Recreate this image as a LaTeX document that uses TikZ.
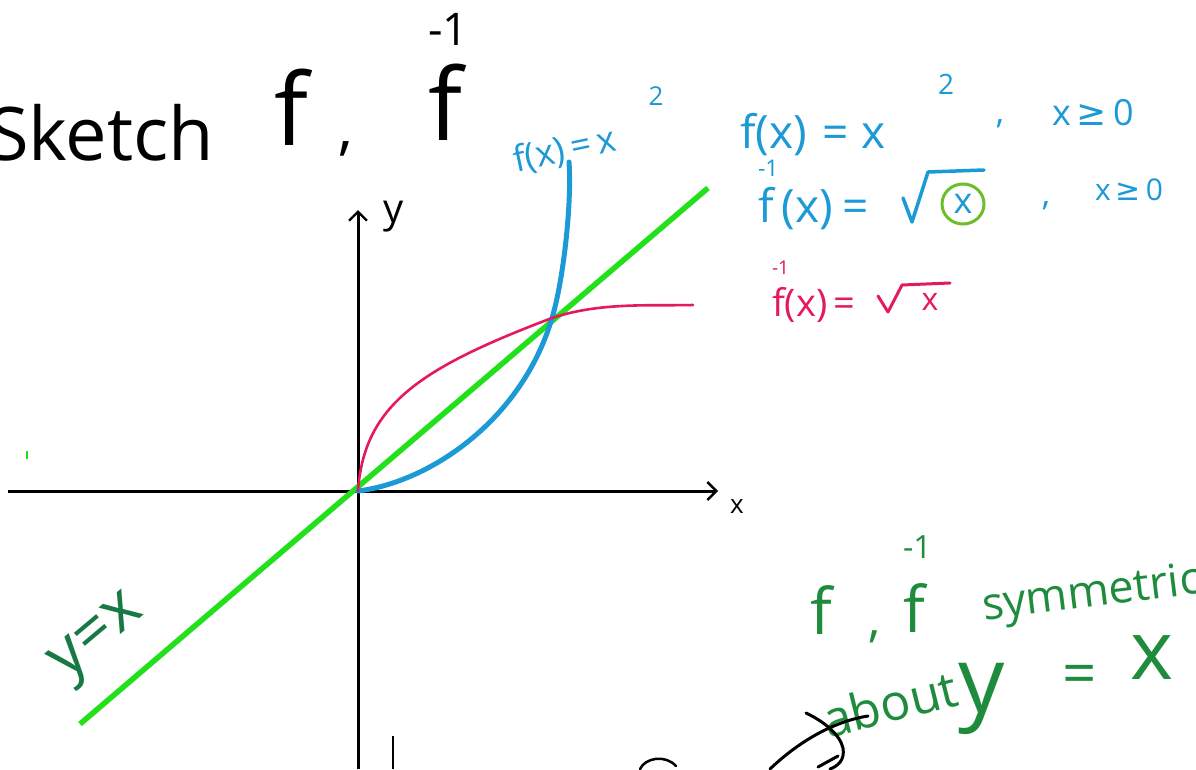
\documentclass[tikz,border=0pt]{standalone}
\usepackage{fontspec}
\usepackage{graphicx}
\setmainfont{Open Sans}
\newfontfamily\symfont{DejaVu Sans}
\usetikzlibrary{arrows.meta}
\definecolor{fblue}{HTML}{1C9AD6}
\definecolor{fpink}{HTML}{E5195E}
\definecolor{lgreen}{HTML}{22E01A}
\definecolor{cgreen}{HTML}{6CBE2B}
\definecolor{dgreen}{HTML}{1E8C3C}
\definecolor{tgreen}{HTML}{177A45}
\newcommand\finv[2]{\makebox[0pt][l]{\raisebox{#1}{\scalebox{#2}{-1}}}f}
\tikzset{
  axis/.style={line width=3pt, black},
  barb/.style={-{Straight Barb[length=9pt,width=18pt,line width=2.4pt]}},
  hand/.style={inner sep=0pt, outer sep=0pt},
  bluetxt/.style={hand, text=fblue},
  pinktxt/.style={hand, text=fpink},
  greentxt/.style={hand, text=dgreen},
  ink/.style={line width=3pt, line cap=round, line join=round},
}
\begin{document}
\begin{tikzpicture}[x=1pt,y=-1pt]
\fill[white] (0,0) rectangle (1196,769);
\path[use as bounding box] (0,0) rectangle (1196,769);

% title
\node[hand, anchor=base west, font=\fontsize{74}{80}\selectfont] (sketch) at (-12,160) {Sketch};
\node[hand, anchor=base west, font=\fontsize{100}{100}\selectfont] (f1) at (274,145) {f};
\node[hand, anchor=base west, font=\fontsize{60}{60}\selectfont] (comma1) at (338,148) {,};
\node[hand, anchor=base west, font=\fontsize{100}{100}\selectfont] (f2) at (428,140) {\finv{0.95em}{0.45}};

% axes
\coordinate (xl) at (8,491);
\coordinate (xr) at (718,491);
\coordinate (yb) at (358,769);
\coordinate (yt) at (358,210);
\coordinate (O) at (358,491);
\draw[axis, barb] (xl) -- (xr);
\draw[axis, barb] (yb) -- (yt);
\node[hand, font=\fontsize{40}{40}\selectfont, anchor=base west] (ylab) at (383,222) {y};
\node[hand, font=\fontsize{26}{28}\selectfont, anchor=base west] (xlab) at (730,513) {x};

% y = x line
\coordinate (gl) at (80,724);
\coordinate (gr) at (708,188);
\draw[lgreen, line width=5.5pt] (gl) -- (gr);
\node[hand, text=tgreen, rotate=40, font=\fontsize{64}{64}\selectfont] (yx) at (100,640) {y=x};
\draw[lgreen, line width=2pt] (27,451) -- (27,459);

% curves
\coordinate (P) at (552,318);
\coordinate (btop) at (569,162);
\coordinate (pend) at (693,305);
\draw[fblue, line width=5pt, line cap=round] (O) .. controls (430,482) and (522,420) .. (P)
  .. controls (563,282) and (572,205) .. (btop);
\draw[fpink, line width=2.6pt, line cap=round] (O) .. controls (364,405) and (420,368) .. (P)
  .. controls (600,302) and (650,306) .. (pend);

% blue label near curve
\node[bluetxt, rotate=12, anchor=base west, font=\fontsize{36}{38}\selectfont] (flab) at (516,172) {f(x)\,=\,x};
\node[bluetxt, font=\fontsize{26}{28}\selectfont] (flab2) at (656,96) {2};

% right text, line 1
\node[bluetxt, anchor=base west, font=\fontsize{46}{46}\selectfont] (r1) at (740,148) {f(x)\hspace{16pt}=\hspace{12pt}x};
\node[bluetxt, font=\fontsize{28}{30}\selectfont] (r1b) at (946,84) {2};
\node[bluetxt, font=\fontsize{34}{36}\selectfont] (r1c) at (1000,124) {,};
\node[bluetxt, anchor=base west, font=\fontsize{36}{38}\selectfont] (r1d) at (1052,125) {x\,{\symfont ≥}\,0};

% right text, line 2
\node[bluetxt, anchor=base west, font=\fontsize{46}{46}\selectfont] (r2) at (758,222) {\finv{1em}{0.5}\hspace{8pt}(x)\hspace{10pt}=};
\coordinate (rad1) at (903,198);
\draw[fblue, ink, line width=3.5pt] (rad1) -- (912,222) -- (928,172) -- (984,170);
\node[bluetxt, font=\fontsize{36}{38}\selectfont] (r2x) at (963,204) {x};
\draw[cgreen, line width=3pt] (r2x) ellipse (21pt and 20pt);
\node[bluetxt, font=\fontsize{34}{36}\selectfont] (r2c) at (1046,206) {,};
\node[bluetxt, anchor=base west, font=\fontsize{30}{32}\selectfont] (r2d) at (1095,200) {x\,{\symfont ≥}\,0};

% pink text
\node[pinktxt, anchor=base west, font=\fontsize{38}{38}\selectfont] (p1) at (772,316) {\finv{1.1em}{0.5}(x)\,=};
\coordinate (rad2) at (878,296);
\draw[fpink, ink] (rad2) -- (888,312) -- (902,285) -- (950,283);
\node[pinktxt, font=\fontsize{32}{34}\selectfont] (p1x) at (930,302) {x};

% green conclusion
\node[greentxt, anchor=base west, font=\fontsize{64}{64}\selectfont] (g1) at (810,634) {f};
\node[greentxt, anchor=base west, font=\fontsize{50}{50}\selectfont] (g1c) at (868,636) {,};
\node[greentxt, anchor=base west, font=\fontsize{64}{64}\selectfont] (g2) at (903,632) {\finv{1.15em}{0.5}};
\node[greentxt, anchor=base west, rotate=7, font=\fontsize{45}{46}\selectfont] (g3) at (984,620) {symmetric};
\node[greentxt, anchor=base west, rotate=14, font=\fontsize{50}{52}\selectfont] (g4) at (828,738) {about};
\node[greentxt, anchor=base west, font=\fontsize{92}{92}\selectfont] (g5) at (958,712) {y};
\node[greentxt, font=\fontsize{60}{60}\selectfont] (g6) at (1080,680) {=};
\node[greentxt, font=\fontsize{82}{82}\selectfont] (g7) at (1152,658) {x};

% black scribbles at bottom
\draw[black, ink] (770,769) .. controls (795,745) and (830,722) .. (868,716);
\draw[black, ink] (806,713) .. controls (825,722) and (840,735) .. (843,748) .. controls (845,760) and (838,766) .. (830,769);
\draw[black, ink] (818,767) -- (838,756);
\draw[black, ink, line width=2.5pt] (640,769) .. controls (645,758) and (665,754) .. (676,766);
\draw[black, line width=1.2pt] (393,736) -- (393,769);
\end{tikzpicture}
\end{document}
